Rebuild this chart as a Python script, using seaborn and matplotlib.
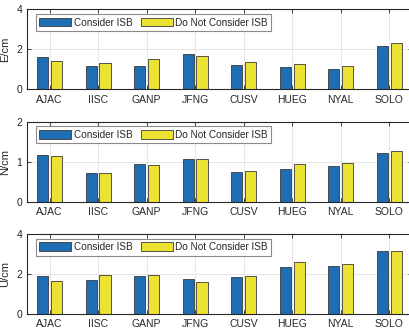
import matplotlib
matplotlib.use("Agg")
import matplotlib.pyplot as plt
from matplotlib.patches import Patch
import pandas as pd
import seaborn as sns

stations = ["AJAC", "IISC", "GANP", "JFNG", "CUSV", "HUEG", "NYAL", "SOLO"]
schemes = ["Consider ISB", "Do Not Consider ISB"]

e_isb = [1.63, 1.15, 1.15, 1.75, 1.20, 1.12, 1.03, 2.17]
e_noisb = [1.42, 1.33, 1.50, 1.65, 1.37, 1.25, 1.18, 2.33]
n_isb = [1.16, 0.71, 0.94, 1.06, 0.74, 0.82, 0.89, 1.22]
n_noisb = [1.14, 0.71, 0.92, 1.075, 0.77, 0.94, 0.96, 1.26]
u_isb = [1.88, 1.70, 1.87, 1.72, 1.83, 2.33, 2.38, 3.13]
u_noisb = [1.62, 1.92, 1.92, 1.58, 1.87, 2.60, 2.47, 3.12]

components = ["E/cm", "N/cm", "U/cm"]
yticks = [[0, 2, 4], [0, 1, 2], [0, 2, 4]]
series = [(e_isb, e_noisb), (n_isb, n_noisb), (u_isb, u_noisb)]

blue = "#1f6db3"
yellow = "#ebe233"
edge = "#3a3a3a"
ink = "#262626"

sns.set_theme(style="white")
plt.rcParams["font.family"] = ["Liberation Sans", "DejaVu Sans"]

fig = plt.figure(figsize=(4.10, 3.34), dpi=100)
W, H = 410, 334
left_px, right_px = 26.7, 412.0
bottoms_px = [89.3, 201.7, 313.7]
height_px = 80.0

for (a, b), label, yt, bot in zip(series, components, yticks, bottoms_px):
    ax = fig.add_axes([left_px / W, 1 - bot / H, (right_px - left_px) / W, height_px / H])
    df = pd.DataFrame({
        "station": stations * 2,
        "value": list(a) + list(b),
        "scheme": [schemes[0]] * len(stations) + [schemes[1]] * len(stations),
    })
    sns.barplot(data=df, x="station", y="value", hue="scheme", order=stations,
                hue_order=schemes, palette=[blue, yellow], saturation=1,
                width=0.5714, gap=0.2, edgecolor=edge, linewidth=0.6,
                legend=False, ax=ax, zorder=2)
    ax.set_xlim(-0.47, 7.47)
    ax.set_ylim(yt[0], yt[-1])
    ax.set_yticks(yt)
    ax.set_xticks(range(len(stations)))
    ax.set_xticklabels(stations)
    ax.set_xlabel("")
    ax.set_ylabel(label, fontsize=8, color=ink)
    ax.yaxis.set_label_coords(-0.042, 0.5)
    ax.grid(True, color="#e2e2e2", linewidth=0.6, zorder=0)
    ax.set_axisbelow(True)
    for s in ax.spines.values():
        s.set_visible(True)
        s.set_color(ink)
        s.set_linewidth(0.8)
    ax.tick_params(axis="both", which="both", direction="in", length=3,
                   width=0.6, colors=ink, labelsize=7.5, pad=3,
                   top=True, right=True, bottom=True, left=True)
    ax.tick_params(axis="x", pad=4)
    handles = [Patch(facecolor=blue, edgecolor=edge, linewidth=0.6),
               Patch(facecolor=yellow, edgecolor=edge, linewidth=0.6)]
    leg = ax.legend(handles, schemes, loc="upper left", bbox_to_anchor=(0.0235, 0.94),
                    borderaxespad=0, ncol=2, fontsize=7.2, frameon=True, fancybox=False,
                    handlelength=3.2, handleheight=0.95, handletextpad=0.25,
                    columnspacing=0.8, borderpad=0.35)
    leg.get_frame().set_edgecolor("#8a8a8a")
    leg.get_frame().set_linewidth(0.8)
    leg.get_frame().set_facecolor("white")
    leg.get_frame().set_alpha(1)

fig.savefig("out.png", dpi=100)
